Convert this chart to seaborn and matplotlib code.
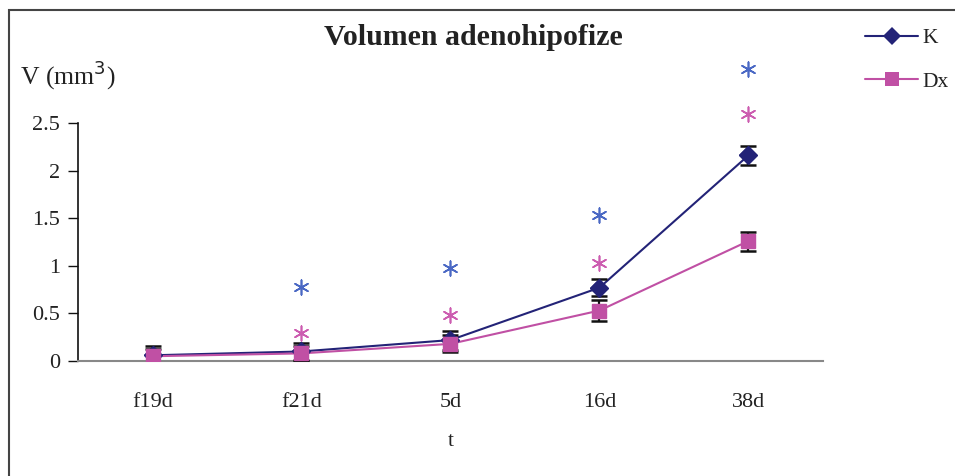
import numpy as np
import pandas as pd
import matplotlib
matplotlib.use("Agg")
import matplotlib.pyplot as plt
import seaborn as sns
from matplotlib.patches import Rectangle

# data
categories = ["f19d", "f21d", "5d", "16d", "38d"]
k_vals = [0.06, 0.10, 0.22, 0.77, 2.16]
k_err = [0.10, 0.09, 0.10, 0.09, 0.10]
dx_vals = [0.05, 0.08, 0.18, 0.53, 1.26]
dx_err = [0.08, 0.08, 0.09, 0.11, 0.10]
# significance asterisks (no mark at f19d)
star_cats = ["f21d", "5d", "16d", "38d"]
k_star = [0.78, 0.98, 1.53, 3.07]
dx_star = [0.29, 0.48, 1.03, 2.59]

k_color = "#232377"
dx_color = "#c050a4"
k_star_color = "#4a68c4"
dx_star_color = "#cc5cb0"

sns.set_theme(style="white")
plt.rcParams["font.family"] = ["Liberation Serif", "DejaVu Serif"]
plt.rcParams["text.color"] = "#222222"

df = pd.DataFrame({
    "t": categories * 2,
    "V": k_vals + dx_vals,
    "grupa": ["K"] * 5 + ["Dx"] * 5,
})
df["x"] = df["t"].map({c: i for i, c in enumerate(categories)})

fig = plt.figure(figsize=(9.55, 4.76), dpi=100)
ax = fig.add_axes([0.0817, 0.2416, 0.780, 0.500])

sns.lineplot(data=df, x="x", y="V", hue="grupa", style="grupa",
             markers={"K": "D", "Dx": "s"}, dashes=False,
             palette={"K": k_color, "Dx": dx_color},
             markersize=9.5, markeredgewidth=0, linewidth=1.5,
             ax=ax, legend=True, zorder=3)

xpos = np.arange(len(categories))
ax.errorbar(xpos, k_vals, yerr=k_err, fmt="none", ecolor="#111111",
            elinewidth=1.6, capsize=6, capthick=1.8, zorder=4)
ax.errorbar(xpos, dx_vals, yerr=dx_err, fmt="none", ecolor="#111111",
            elinewidth=1.6, capsize=6, capthick=1.8, zorder=4)

# redraw markers above error bars
ax.plot(xpos, k_vals, "D", color=k_color, markersize=9.5, zorder=5)
ax.plot(xpos, dx_vals, "s", color=dx_color, markersize=9.5, zorder=5)

sx = [categories.index(c) for c in star_cats]
ax.scatter(sx, k_star, marker=(6, 2, 0), s=110, color=k_star_color,
           linewidths=1.2, clip_on=False, zorder=5)
ax.scatter(sx, dx_star, marker=(6, 2, 0), s=110, color=dx_star_color,
           linewidths=1.2, clip_on=False, zorder=5)

ax.set_xlim(-0.5, 4.5)
ax.set_ylim(0, 2.5)
ax.set_yticks([0, 0.5, 1, 1.5, 2, 2.5])
ax.set_yticklabels(["0", "0.5", "1", "1.5", "2", "2.5"])
ax.set_xticks(xpos)
ax.set_xticklabels(categories)
ax.set_xticks(np.arange(0.5, 5, 1), minor=True)
ax.tick_params(axis="x", which="major", length=0, pad=23, labelsize=16,
               colors="#222222")
ax.tick_params(axis="x", which="minor", length=7, width=1.2, color="#555555",
               direction="out")
ax.tick_params(axis="y", length=7, width=1, color="#111111", direction="out",
               labelsize=16, pad=6, left=True)
ax.tick_params(axis="y", labelcolor="#222222")

for s in ["top", "right"]:
    ax.spines[s].set_visible(False)
ax.spines["left"].set_color("#111111")
ax.spines["left"].set_linewidth(1.2)
ax.spines["left"].set_bounds(0, 2.5)
ax.spines["bottom"].set_color("#888888")
ax.spines["bottom"].set_linewidth(1.5)
ax.set_xlabel("")
ax.set_ylabel("")

fig.text(0.496, 0.922, "Volumen adenohipofize", ha="center", va="center",
         fontsize=21.5, fontweight="bold")
fig.text(0.021, 0.842, "V (mm$^{3}$)", ha="left", va="center", fontsize=18.5)
fig.text(0.472, 0.072, "t", ha="center", va="center", fontsize=15)

handles, labels = ax.get_legend_handles_labels()
ax.legend(handles, labels, loc="upper left", bbox_to_anchor=(0.906, 0.941),
          bbox_transform=fig.transFigure, frameon=False, fontsize=15.5,
          handlelength=2.45, handletextpad=0.2, labelspacing=1.1,
          borderpad=0, borderaxespad=0)

# outer chart frame (left and top edges visible)
fig.patches.append(Rectangle((8.5 / 955, -0.1), 1.2, 1.1 - 10.5 / 476,
                             transform=fig.transFigure, fill=False,
                             edgecolor="#444444", linewidth=1.5))

fig.savefig("out.png", dpi=100)
